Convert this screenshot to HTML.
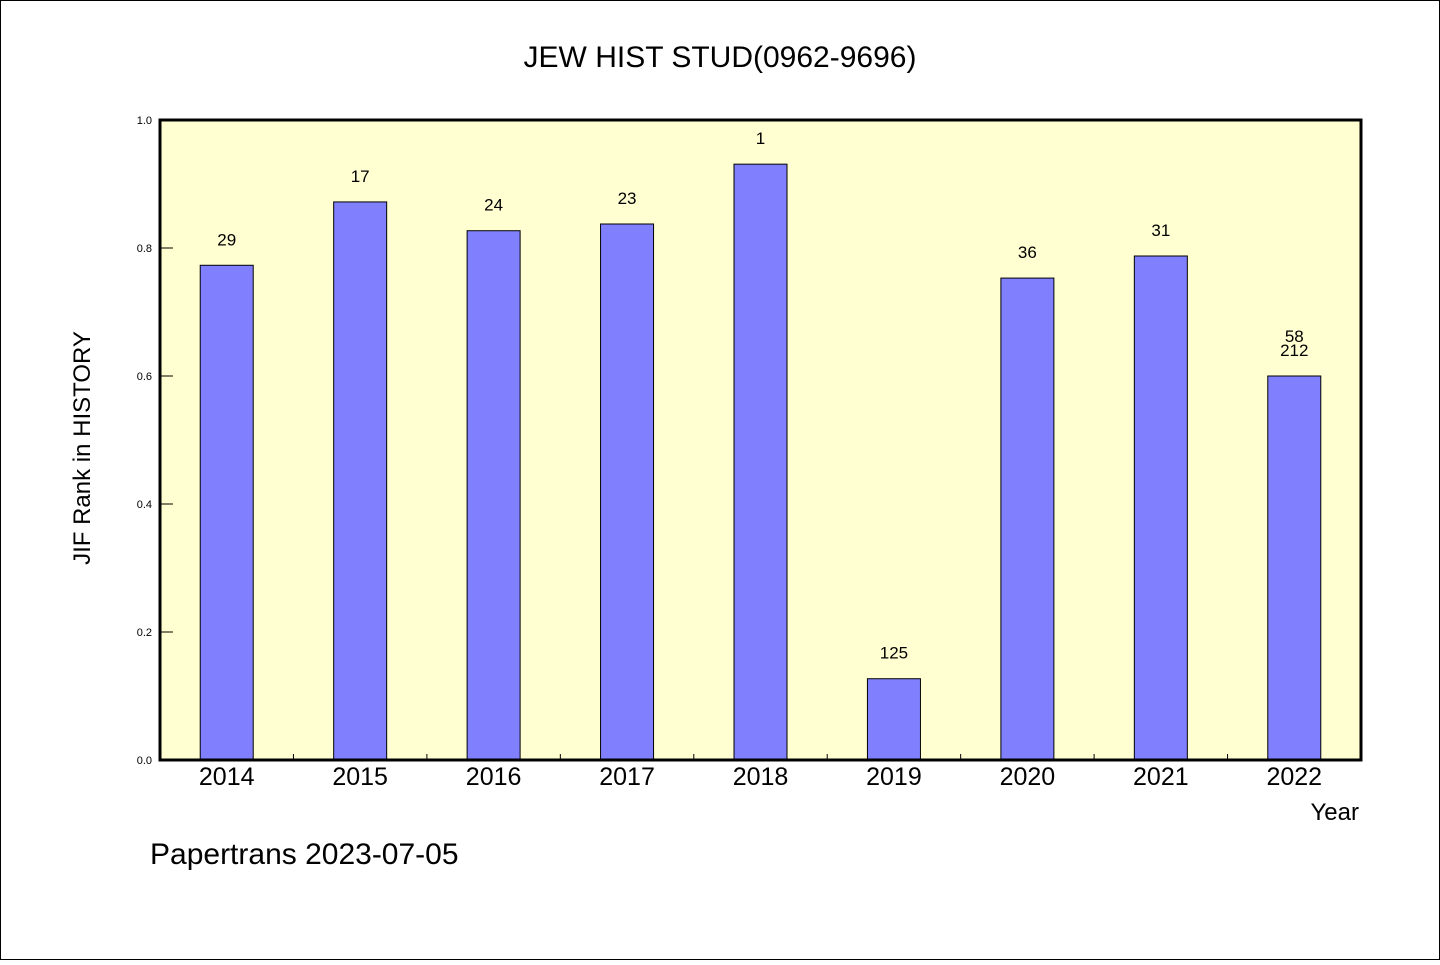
<!DOCTYPE html>
<html><head><meta charset="utf-8"><style>
html,body{margin:0;padding:0;background:#fff;}
svg text{font-family:"WenQuanYi Zen Hei","Liberation Sans",sans-serif;fill:#000;}
</style></head><body>
<svg width="1440" height="960" xmlns="http://www.w3.org/2000/svg">
<rect x="0.5" y="0.5" width="1439" height="959" fill="#fff" stroke="#000"/>
<text x="720" y="67" font-size="30" text-anchor="middle">JEW HIST STUD(0962-9696)</text>
<rect x="160" y="120" width="1201" height="640" fill="#ffffd2"/>
<g id="bars"></g>
<g id="axes"></g>
<rect x="160" y="120" width="1201" height="640" fill="none" stroke="#000" stroke-width="3"/>
<text transform="translate(90,448) rotate(-90)" font-size="24" text-anchor="middle">JIF Rank in HISTORY</text>
<text x="1359" y="820" font-size="24" text-anchor="end">Year</text>
<text x="150" y="864" font-size="30">Papertrans 2023-07-05</text>
</svg>
<script>
const categories=["2014","2015","2016","2017","2018","2019","2020","2021","2022"];
const values=[0.773,0.872,0.827,0.8375,0.931,0.127,0.753,0.7875,0.6];
const rankLabels=[["29"],["17"],["24"],["23"],["1"],["125"],["36"],["31"],["58","212"]];
const yTicks=[0,0.2,0.4,0.6,0.8,1.0];
const NS="http://www.w3.org/2000/svg";
const X0=160,X1=1361,Y0=760,Y1=120;
const slot=(X1-X0)/categories.length;
const xC=i=>X0+slot*(i+0.5);
const y=v=>Y0-(Y0-Y1)*v;
function mk(tag,attrs,parent,text){const e=document.createElementNS(NS,tag);for(const k in attrs)e.setAttribute(k,attrs[k]);if(text!==undefined)e.textContent=text;parent.appendChild(e);return e;}
const bars=document.getElementById('bars'),axes=document.getElementById('axes');
categories.forEach((c,i)=>{
  const r=mk('rect',{x:xC(i)-26.5,y:y(values[i]),width:53,height:Y0-y(values[i]),fill:'#8080ff',stroke:'#000','stroke-width':1},bars);
  
  
  const labs=rankLabels[i];
  labs.forEach((l,j)=>{
    const t=mk('text',{x:xC(i),y:y(values[i])-20+(j-(labs.length-1))*(-14)-(labs.length>1?14*(labs.length-1):0)+ (labs.length>1?j*0:0),'font-size':17,'text-anchor':'middle'},bars,l);
    if(labs.length>1){t.setAttribute('y',y(values[i])-20-(labs.length-1-j)*14);}
    
    
  });
  const xl=mk('text',{x:xC(i),y:785,'font-size':25,'text-anchor':'middle'},axes,c);
  
  
  if(i>0){const tk=mk('line',{x1:X0+slot*i,x2:X0+slot*i,y1:Y0,y2:Y0-6,stroke:'#000','stroke-width':1},axes);
  
  }
});
yTicks.forEach(v=>{
  const tk=mk('line',{x1:X0,x2:X0+13,y1:y(v),y2:y(v),stroke:'#000','stroke-width':1},axes);
  
  
  const t=mk('text',{x:152,y:y(v)+4,'font-size':11,'text-anchor':'end'},axes,v.toFixed(1));
  
  
});
</script>
</body></html>
